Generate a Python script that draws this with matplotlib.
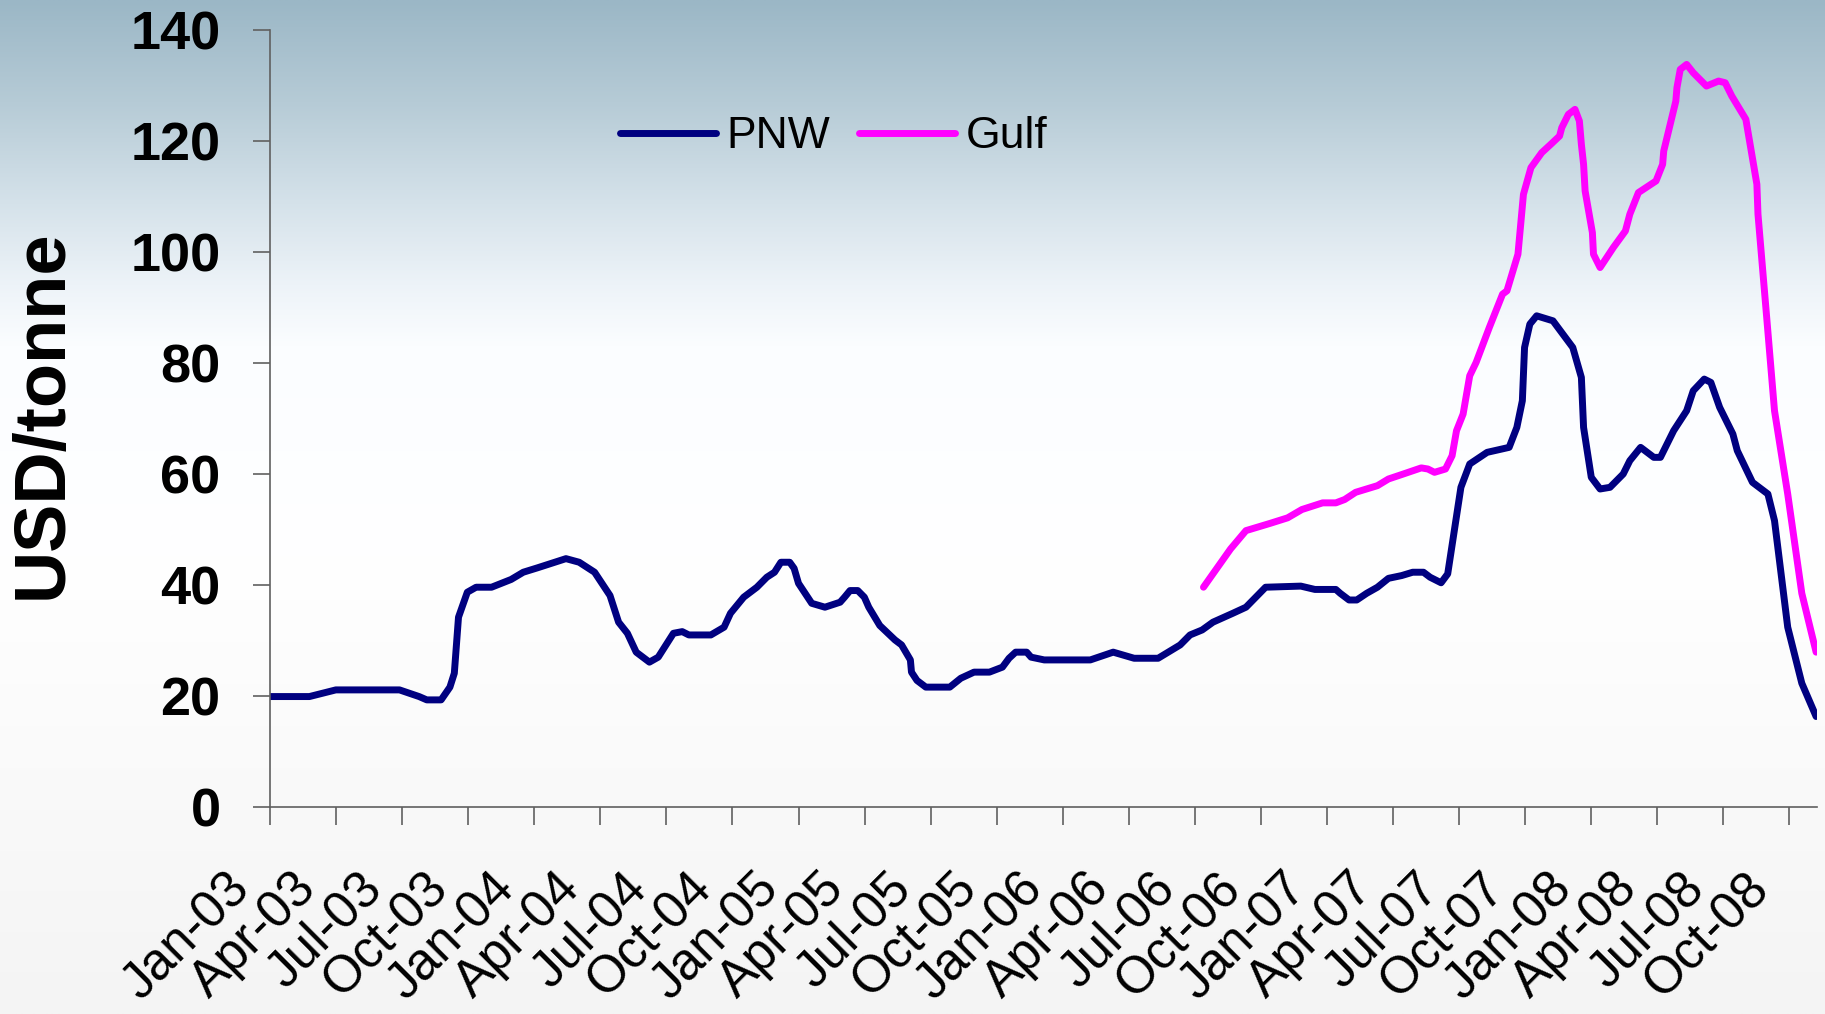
import numpy as np
import matplotlib
matplotlib.use("Agg")
import matplotlib.pyplot as plt
from matplotlib.transforms import ScaledTranslation

# ---- data (x = months since Jan 2003) ----
pnw_x = [0, 1.79, 2.99, 5.88, 6.77, 7.12, 7.77, 8.17, 8.37, 8.56, 8.96, 9.36, 10.06, 10.95,
         11.5, 12.15, 13.44, 14.04, 14.74, 15.44, 15.83, 16.23, 16.63, 17.23, 17.63, 18.32,
         18.72, 19.02, 20.02, 20.62, 20.91, 21.51, 22.11, 22.56, 22.91, 23.2, 23.6, 23.8, 24.0,
         24.6, 25.2, 25.89, 26.09, 26.34, 26.69, 26.99, 27.19, 27.69, 28.38, 28.68, 29.08,
         29.13, 29.38, 29.78, 30.87, 31.37, 31.97, 32.67, 33.26, 33.56, 33.86, 34.36, 34.56,
         35.16, 37.25, 38.29, 39.24, 40.33, 41.33, 41.78, 42.33, 42.82, 43.72, 44.32, 45.21,
         46.81, 47.45, 48.4, 48.6, 49.0, 49.35, 49.8, 50.29, 50.79, 51.39, 51.89, 52.38, 52.68,
         53.18, 53.48, 53.78, 54.08, 54.48, 55.27, 56.27, 56.62, 56.87, 56.97, 57.21, 57.52,
         58.26, 59.16, 59.55, 59.65, 60.0, 60.4, 60.85, 61.45, 61.75, 62.24, 62.84, 63.14,
         63.74, 64.33, 64.63, 65.13, 65.43, 65.83, 66.43, 66.63, 67.32, 68.02, 68.32, 68.62,
         68.92, 69.56, 70.21]
pnw_y = [19.9, 19.9, 21.1, 21.1, 19.9, 19.3, 19.3, 21.6, 24.1, 34.2, 38.7, 39.6, 39.6, 41.0,
         42.3, 43.1, 44.75, 44.1, 42.3, 38.1, 33.3, 31.3, 27.9, 26.1, 27.0, 31.3,
         31.6, 31.0, 31.0, 32.4, 34.9, 37.8, 39.6, 41.4, 42.3, 44.1, 44.1, 43.0, 40.3,
         36.7, 36.0, 36.9, 37.8, 39.0, 39.0, 37.8, 36.0, 32.7, 30.1, 29.2, 26.5,
         24.3, 22.8, 21.6, 21.6, 23.2, 24.3, 24.3, 25.2, 26.8, 27.9, 27.9, 27.0,
         26.5, 26.5, 27.9, 26.8, 26.8, 29.2, 31.0, 31.9, 33.3, 34.9, 36.0, 39.6,
         39.8, 39.2, 39.2, 38.5, 37.3, 37.3, 38.5, 39.6, 41.2, 41.7, 42.3, 42.3, 41.4,
         40.4, 42.0, 49.8, 57.6, 61.8, 63.9, 64.8, 68.4, 73.2, 82.8, 87.0, 88.5,
         87.6, 82.8, 77.4, 68.4, 59.4, 57.3, 57.6, 60.0, 62.4, 64.8, 63.0, 63.0,
         67.8, 71.4, 75.0, 77.1, 76.5, 72.0, 67.2, 64.2, 58.5, 56.4, 51.6, 42.0,
         32.4, 22.3, 16.3]

gulf_x = [42.39, 43.62, 44.32, 45.41, 46.21, 46.86, 47.8, 48.4, 48.8, 49.3, 50.29, 50.79,
          51.39, 52.28, 52.58, 52.88, 53.38, 53.68, 53.88, 54.18, 54.48, 54.77, 55.37, 55.97,
          56.17, 56.67, 56.92, 57.26, 57.75, 58.16, 58.56, 58.66, 58.96, 59.26, 59.46, 59.55,
          59.65, 59.72, 60.05, 60.1, 60.4, 61.0, 61.55, 61.75, 62.14, 62.94, 63.24, 63.29,
          63.84, 63.89, 64.04, 64.33, 64.63, 65.23, 65.78, 66.08, 66.38, 67.02, 67.52, 67.57,
          67.97, 68.32, 68.92, 69.56, 70.21]
gulf_y = [39.6, 46.5, 49.8, 51.1, 52.1, 53.6, 54.8, 54.8, 55.4, 56.7, 57.9, 59.1,
          59.9, 61.1, 60.9, 60.3, 60.9, 63.3, 67.8, 70.8, 77.7, 80.1, 86.4, 92.4,
          93.0, 99.6, 110.4, 115.2, 117.9, 119.4, 120.9, 122.4, 124.8, 125.7, 123.6, 119.4,
          115.8, 111.0, 103.5, 99.6, 97.2, 100.8, 103.8, 106.8, 110.7, 112.8, 115.8, 118.2,
          127.2, 129.6, 132.9, 133.8, 132.3, 129.9, 130.8, 130.5, 128.1, 123.9, 112.2, 106.8,
          88.0, 71.4, 56.4, 38.5, 27.9]

tick_months = list(range(0, 70, 3))
tick_labels = ["Jan-03", "Apr-03", "Jul-03", "Oct-03", "Jan-04", "Apr-04", "Jul-04", "Oct-04",
               "Jan-05", "Apr-05", "Jul-05", "Oct-05", "Jan-06", "Apr-06", "Jul-06", "Oct-06",
               "Jan-07", "Apr-07", "Jul-07", "Oct-07", "Jan-08", "Apr-08", "Jul-08", "Oct-08"]
y_ticks = [0, 20, 40, 60, 80, 100, 120, 140]

plt.rcParams['font.family'] = ['Liberation Sans', 'DejaVu Sans']

W, H = 1825, 1014
fig = plt.figure(figsize=(W / 100, H / 100), dpi=100)

# background gradient
bg = fig.add_axes([0, 0, 1, 1], zorder=-10)
stops_pos = [0.0, 0.10, 0.20, 0.28, 0.34, 0.55, 0.80, 1.0]
stops_col = np.array([[155, 183, 198], [182, 203, 214], [213, 226, 234], [237, 243, 248],
                      [251, 253, 255], [255, 255, 255], [249, 249, 249], [244, 244, 244]]) / 255.0
yy = np.linspace(0, 1, 400)
grad = np.stack([np.interp(yy, stops_pos, stops_col[:, c]) for c in range(3)], axis=1)
img = np.repeat(grad[:, None, :], 4, axis=1)
bg.imshow(img, aspect='auto', extent=[0, 1, 1, 0], interpolation='bilinear')
bg.set_xlim(0, 1)
bg.set_ylim(1, 0)
bg.axis('off')

ax = fig.add_axes([270 / W, 1 - 807 / H, (1817 - 270) / W, (807 - 30) / H])
ax.patch.set_alpha(0)

l1, = ax.plot(pnw_x, pnw_y, color='#000080', lw=5, solid_joinstyle='round',
              solid_capstyle='round', label='PNW')
l2, = ax.plot(gulf_x, gulf_y, color='#FF00FF', lw=5, solid_joinstyle='round',
              solid_capstyle='round', label='Gulf')

ax.set_xlim(0, 70.25)
ax.set_ylim(0, 140)
for s in ['top', 'right']:
    ax.spines[s].set_visible(False)
for s in ['left', 'bottom']:
    ax.spines[s].set_color('#606060')
    ax.spines[s].set_linewidth(1.2)

ax.set_yticks(y_ticks)
ax.set_yticklabels([str(v) for v in y_ticks], fontsize=39, fontweight='bold')
ax.tick_params(axis='y', direction='out', length=12.5, width=1.2, color='#606060', pad=23)

ax.set_xticks(tick_months)
ax.set_xticklabels(tick_labels, fontsize=37)
ax.tick_params(axis='x', direction='out', length=13, width=1.2, color='#606060', pad=47)
off = ScaledTranslation(-18 / 100, 0, fig.dpi_scale_trans)
for lab in ax.get_xticklabels():
    lab.set_rotation(45)
    lab.set_ha('right')
    lab.set_va('baseline')
    lab.set_rotation_mode('anchor')
    lab.set_transform(lab.get_transform() + off)

fig.text(43 / W, 1 - 414 / H, 'USD/tonne', rotation=90, fontsize=52, fontweight='bold',
         ha='center', va='center')

fig.legend(handles=[l1, l2], loc='center', bbox_to_anchor=(834 / W, 1 - 137 / H),
           bbox_transform=fig.transFigure, ncol=2, frameon=False, fontsize=32,
           handlelength=2.15, handletextpad=0.25, columnspacing=0.65)

fig.savefig('out.png', dpi=100)
